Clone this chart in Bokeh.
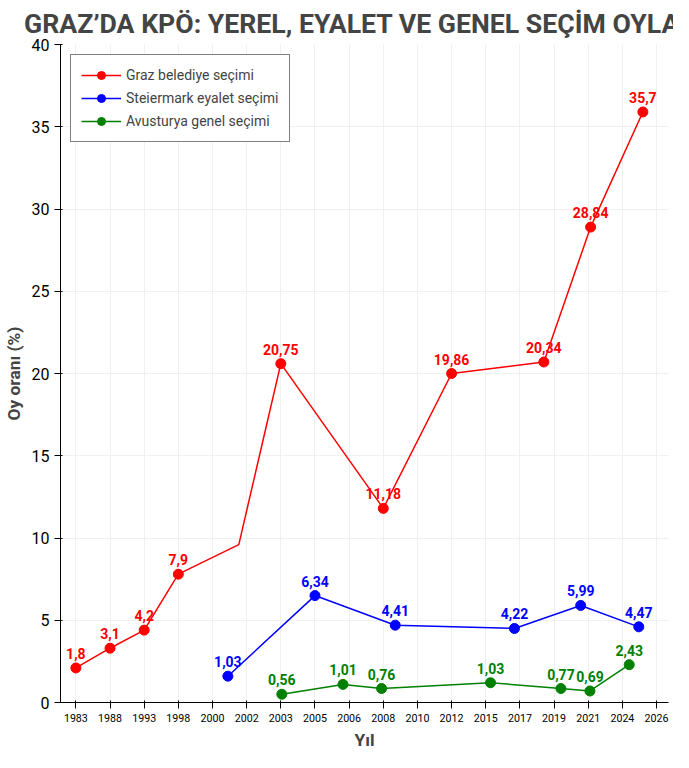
from bokeh.plotting import figure
from bokeh.models import FixedTicker, Legend, LegendItem
from bokeh.embed import file_html
from bokeh.resources import INLINE
from bokeh.core.properties import value

tick_labels = ["1983","1988","1993","1998","2000","2002","2003","2005","2006","2008","2010","2012","2015","2017","2019","2021","2024","2026"]
# x positions on the tick-index axis
red_x = [0, 1, 2, 3, 4.77, 6, 9, 11, 13.7, 15.07, 16.6]
red_y = [2.1, 3.3, 4.4, 7.8, 9.6, 20.6, 11.8, 20.0, 20.7, 28.9, 35.9]
red_lab = ["1,8","3,1","4,2","7,9","","20,75","11,18","19,86","20,34","28,84","35,7"]
red_mark = [True, True, True, True, False, True, True, True, True, True, True]
blue_x = [4.45, 7, 9.35, 12.84, 14.78, 16.48]
blue_y = [1.6, 6.5, 4.7, 4.5, 5.9, 4.6]
blue_lab = ["1,03","6,34","4,41","4,22","5,99","4,47"]
green_x = [6.03, 7.82, 8.95, 12.14, 14.2, 15.05, 16.2]
green_y = [0.5, 1.1, 0.85, 1.2, 0.85, 0.7, 2.3]
green_lab = ["0,56","1,01","0,76","1,03","0,77","0,69","2,43"]

FONT = "Roboto"
p = figure(width=673, height=752, output_backend="svg", toolbar_location=None,
           x_range=(-0.45, 17.35), y_range=(0, 40), min_border_top=10, min_border_left=10)
p.title.text = "GRAZ’DA KPÖ: YEREL, EYALET VE GENEL SEÇİM OYLARI"
p.title.text_font = FONT
p.title.text_font_size = "20pt"
p.title.align = "center"
p.title.text_font_style = "bold"
p.xaxis.ticker = FixedTicker(ticks=list(range(len(tick_labels))))
p.xaxis.major_label_overrides = {i: t for i, t in enumerate(tick_labels)}
p.yaxis.ticker = FixedTicker(ticks=[0,5,10,15,20,25,30,35,40])
for ax in (p.xaxis, p.yaxis):
    ax.major_label_text_font = FONT
    ax.axis_label_text_font = FONT
    ax.axis_label_text_font_style = "bold"
    ax.axis_label_text_font_size = "13pt"
    ax.major_label_text_color = "black"
p.xaxis.major_label_text_font_size = "8pt"
p.yaxis.major_label_text_font_size = "12pt"
p.xaxis.axis_label = "Yıl"
p.yaxis.axis_label = "Oy oranı (%)"
p.grid.grid_line_color = "#f0f0f0"
p.outline_line_color = None

items = []
for xs, ys, labs, col, name, marks in [
    (red_x, red_y, red_lab, "red", "Graz belediye seçimi", red_mark),
    (blue_x, blue_y, blue_lab, "blue", "Steiermark eyalet seçimi", None),
    (green_x, green_y, green_lab, "green", "Avusturya genel seçimi", None)]:
    l = p.line(xs, ys, line_color=col, line_width=1.5)
    if marks is None:
        mx, my, ml = xs, ys, labs
    else:
        mx = [x for x, m in zip(xs, marks) if m]
        my = [y for y, m in zip(ys, marks) if m]
        ml = [t for t, m in zip(labs, marks) if m]
    c = p.scatter(mx, my, size=10, color=col)
    p.text(mx, my, text=ml, text_color=col, text_font=value(FONT), text_font_style="bold",
           text_font_size="10.5pt", text_align="center", text_baseline="bottom", y_offset=-9)
    items.append(LegendItem(label=name, renderers=[l, c]))

leg = Legend(items=items, location="top_left", label_text_font=FONT,
             label_text_font_size="10.5pt", border_line_color="black", glyph_width=40)
p.add_layout(leg)

open("out.html", "w").write(file_html(p, INLINE))
